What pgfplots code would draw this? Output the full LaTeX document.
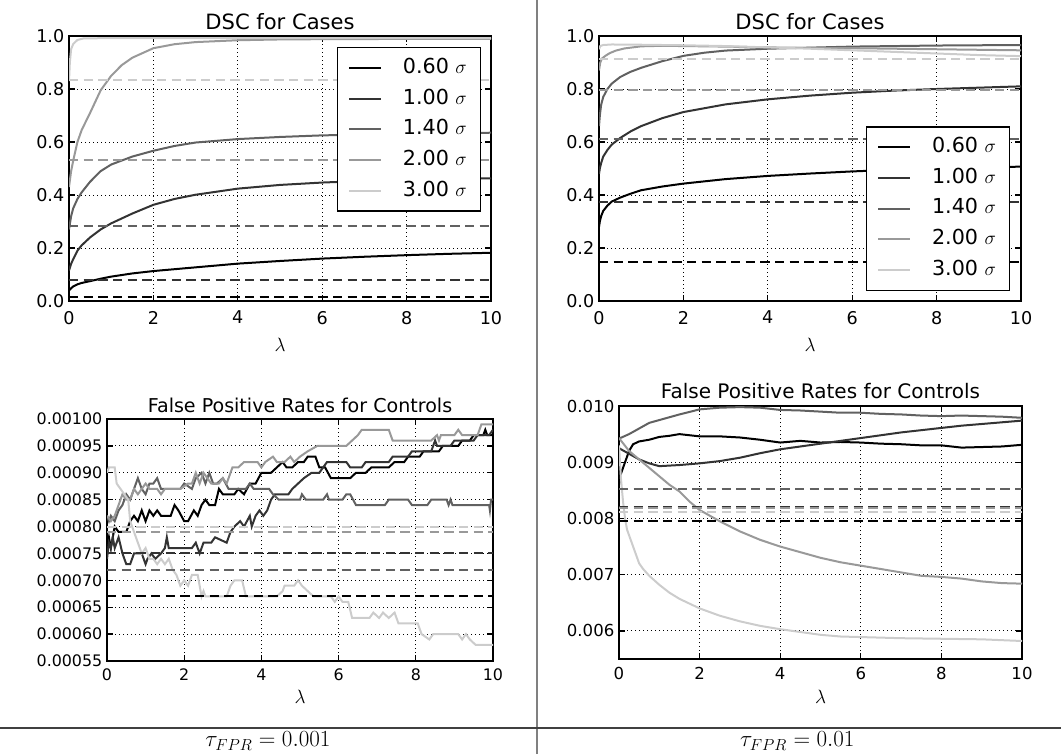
\documentclass[border=0pt]{standalone}
\usepackage[no-math]{fontspec}
\setmainfont{DejaVu Sans}
\usepackage{pgfplots}
\pgfplotsset{compat=1.18}

\definecolor{ga}{gray}{0.0}
\definecolor{gb}{gray}{0.2}
\definecolor{gc}{gray}{0.38}
\definecolor{gd}{gray}{0.6}
\definecolor{ge}{gray}{0.8}

\pgfplotsset{
  panel/.style={
    scale only axis, anchor=south west,
    xmin=0, xmax=10, xtick={0,2,4,6,8,10},
    axis line style={line width=1pt},
    every tick/.style={black, line width=1pt},
    major tick length=4.5pt,
    grid=major,
    major grid style={black, line width=0.6pt, dash pattern=on 0.8pt off 2.2pt},
    /pgf/number format/assume math mode=true,
    scaled y ticks=false,
    xlabel={$\lambda$},
    title style={at={(0.5,1)}, anchor=base},
    every axis plot/.append style={line width=1.5pt},
    legend cell align=left,
    legend image code/.code={\draw[##1, line width=1.5pt] (0pt,0pt) -- (24pt,0pt);},
  },
  leg/.style={legend style={draw=black, line width=1pt, fill=white,
    font=\fontsize{15.5}{18}\selectfont, inner xsep=8pt, inner ysep=7.5pt, row sep=8pt,
    nodes={inner xsep=2pt, inner ysep=0pt, text height=11.6pt, text depth=3.5pt},
    /tikz/every odd column/.append style={column sep=13.5pt}}},
  ref/.style={dash pattern=on 7pt off 4pt, forget plot},
}

\begin{document}
\begin{tikzpicture}
\useasboundingbox (0,0) rectangle (795.75pt,565.5pt);

% top left: DSC, tau = 0.001
\begin{axis}[panel, leg, at={(51.75pt,339.75pt)}, width=316.5pt, height=198.75pt,
  ymin=0, ymax=1, ytick={0,0.2,0.4,0.6,0.8,1}, yticklabels={0.0,0.2,0.4,0.6,0.8,1.0},
  tick label style={font=\fontsize{13.2}{15}\selectfont},
  xticklabel style={yshift=-4pt},
  title={DSC for Cases}, title style={font=\fontsize{15.8}{18}\selectfont, yshift=-1pt},
  xlabel style={at={(axis description cs:0.5,0)}, anchor=center, yshift=-33pt, font=\fontsize{14}{16}\selectfont},
  legend style={at={(0.976,0.958)}, anchor=north east}]
\addplot[ga] coordinates {(0,0.04)(0.05,0.048)(0.1,0.055)(0.2,0.063)(0.3,0.068)(0.5,0.075)(0.75,0.084)(1.0,0.092)(1.5,0.104)(2.0,0.113)(3.0,0.127)(4.0,0.141)(5.0,0.151)(6.0,0.16)(7.0,0.167)(8.0,0.173)(9.0,0.178)(10,0.182)};
\addlegendentry{0.60 $\sigma$}
\addplot[gb] coordinates {(0,0.115)(0.05,0.14)(0.1,0.158)(0.2,0.19)(0.3,0.21)(0.5,0.24)(0.75,0.27)(1.0,0.293)(1.5,0.33)(2.0,0.363)(2.5,0.385)(3.0,0.401)(4.0,0.424)(5.0,0.438)(6.0,0.447)(7.0,0.453)(8.0,0.457)(9.0,0.46)(10,0.463)};
\addlegendentry{1.00 $\sigma$}
\addplot[gc] coordinates {(0,0.27)(0.05,0.32)(0.1,0.35)(0.2,0.385)(0.3,0.41)(0.5,0.45)(0.75,0.49)(1.0,0.515)(1.5,0.545)(2.0,0.567)(2.5,0.585)(3.0,0.598)(4.0,0.611)(5.0,0.619)(6.0,0.625)(7.0,0.628)(8.0,0.631)(9.0,0.633)(10,0.635)};
\addlegendentry{1.40 $\sigma$}
\addplot[gd] coordinates {(0,0.43)(0.05,0.49)(0.1,0.53)(0.2,0.6)(0.3,0.645)(0.5,0.71)(0.75,0.795)(1.0,0.85)(1.25,0.89)(1.5,0.918)(2.0,0.954)(2.5,0.969)(3.0,0.977)(4.0,0.984)(5.0,0.987)(6.0,0.988)(8.0,0.989)(10,0.989)};
\addlegendentry{2.00 $\sigma$}
\addplot[ge] coordinates {(0,0.83)(0.02,0.9)(0.05,0.95)(0.1,0.97)(0.2,0.985)(0.35,0.991)(1,0.992)(10,0.992)};
\addlegendentry{3.00 $\sigma$}
\addplot[ga, ref] coordinates {(0,0.015)(10,0.015)};
\addplot[gb, ref] coordinates {(0,0.079)(10,0.079)};
\addplot[gc, ref] coordinates {(0,0.284)(10,0.284)};
\addplot[gd, ref] coordinates {(0,0.532)(10,0.532)};
\addplot[ge, ref] coordinates {(0,0.834)(10,0.834)};
\end{axis}

% top right: DSC, tau = 0.01
\begin{axis}[panel, leg, at={(449.25pt,339.75pt)}, width=316.5pt, height=198.75pt,
  ymin=0, ymax=1, ytick={0,0.2,0.4,0.6,0.8,1}, yticklabels={0.0,0.2,0.4,0.6,0.8,1.0},
  tick label style={font=\fontsize{13.2}{15}\selectfont},
  xticklabel style={yshift=-4pt},
  title={DSC for Cases}, title style={font=\fontsize{15.8}{18}\selectfont, yshift=-1pt},
  xlabel style={at={(axis description cs:0.5,0)}, anchor=center, yshift=-33pt, font=\fontsize{14}{16}\selectfont},
  legend style={at={(0.974,0.038)}, anchor=south east}]
\addplot[ga] coordinates {(0,0.28)(0.02,0.3)(0.05,0.32)(0.1,0.34)(0.2,0.36)(0.3,0.375)(0.5,0.39)(0.75,0.405)(1.0,0.418)(1.5,0.432)(2.0,0.443)(3.0,0.46)(4.0,0.472)(5.0,0.481)(6.0,0.489)(7.0,0.495)(8.0,0.5)(9.0,0.504)(10,0.507)};
\addlegendentry{0.60 $\sigma$}
\addplot[gb] coordinates {(0,0.48)(0.02,0.5)(0.05,0.52)(0.1,0.545)(0.2,0.57)(0.3,0.59)(0.5,0.615)(0.75,0.64)(1.0,0.66)(1.5,0.69)(2.0,0.713)(3.0,0.742)(4.0,0.761)(5.0,0.775)(6.0,0.786)(7.0,0.794)(8.0,0.8)(9.0,0.805)(10,0.81)};
\addlegendentry{1.00 $\sigma$}
\addplot[gc] coordinates {(0,0.66)(0.02,0.7)(0.05,0.74)(0.1,0.77)(0.2,0.8)(0.3,0.82)(0.5,0.845)(0.75,0.865)(1.0,0.88)(1.5,0.905)(2.0,0.925)(2.5,0.937)(3.0,0.945)(4.0,0.952)(5.0,0.956)(6.0,0.96)(7.0,0.962)(8.0,0.964)(9.0,0.965)(10,0.966)};
\addlegendentry{1.40 $\sigma$}
\addplot[gd] coordinates {(0,0.87)(0.03,0.9)(0.07,0.915)(0.15,0.925)(0.25,0.935)(0.4,0.945)(0.6,0.953)(1.0,0.961)(1.5,0.963)(2.0,0.962)(3.0,0.96)(4.0,0.957)(5.0,0.955)(6.0,0.954)(7.0,0.952)(8.0,0.95)(9.0,0.948)(10,0.946)};
\addlegendentry{2.00 $\sigma$}
\addplot[ge] coordinates {(0,0.95)(0.03,0.962)(0.1,0.966)(0.3,0.968)(1.0,0.967)(2.0,0.965)(3.0,0.962)(4.0,0.957)(5.0,0.952)(6.0,0.946)(7.0,0.94)(8.0,0.934)(9.0,0.928)(10,0.924)};
\addlegendentry{3.00 $\sigma$}
\addplot[ga, ref] coordinates {(0,0.148)(10,0.148)};
\addplot[gb, ref] coordinates {(0,0.372)(10,0.372)};
\addplot[gc, ref] coordinates {(0,0.61)(10,0.61)};
\addplot[gd, ref] coordinates {(0,0.798)(10,0.798)};
\addplot[ge, ref] coordinates {(0,0.915)(10,0.915)};
\end{axis}

% bottom left: FPR, tau = 0.001
\begin{axis}[panel, at={(80.25pt,69.75pt)}, width=289.5pt, height=181.5pt,
  ymin=0.00055, ymax=0.001,
  ytick={0.00055,0.0006,0.00065,0.0007,0.00075,0.0008,0.00085,0.0009,0.00095,0.001},
  yticklabels={0.00055,0.00060,0.00065,0.00070,0.00075,0.00080,0.00085,0.00090,0.00095,0.00100},
  tick label style={font=\fontsize{11.9}{14}\selectfont},
  xticklabel style={yshift=-2.5pt},
  title={False Positive Rates for Controls}, title style={font=\fontsize{14.3}{17}\selectfont, yshift=-1.3pt},
  xlabel style={at={(axis description cs:0.5,0)}, anchor=center, yshift=-27pt, font=\fontsize{14}{16}\selectfont}]
\addplot[ga] coordinates {(0,0.00076)(0.05,0.00078)(0.1,0.00076)(0.15,0.00078)(0.2,0.0008)(0.3,0.00079)(0.5,0.00079)(0.6,0.00081)(0.7,0.00082)(0.8,0.00081)(0.9,0.00083)(1.0,0.00081)(1.1,0.00083)(1.2,0.00082)(1.3,0.00083)(1.4,0.00082)(1.65,0.00082)(1.75,0.00084)(1.85,0.00083)(2.0,0.00081)(2.1,0.00081)(2.25,0.00083)(2.35,0.00082)(2.45,0.00084)(2.55,0.00085)(2.65,0.00084)(2.8,0.00084)(2.9,0.00087)(3.0,0.00086)(3.3,0.00086)(3.4,0.00087)(3.55,0.00086)(3.7,0.00088)(3.85,0.00088)(4.0,0.0009)(4.25,0.0009)(4.4,0.00091)(4.55,0.00092)(4.65,0.00091)(4.8,0.00091)(4.95,0.00092)(5.1,0.00092)(5.2,0.00093)(5.4,0.00093)(5.5,0.00091)(5.65,0.00091)(5.8,0.00089)(6.3,0.00089)(6.45,0.0009)(6.7,0.0009)(6.85,0.00091)(7.3,0.00091)(7.45,0.00092)(7.7,0.00092)(7.8,0.00093)(8.1,0.00093)(8.2,0.00094)(8.6,0.00094)(8.7,0.00095)(9.1,0.00095)(9.2,0.00096)(9.4,0.00096)(9.5,0.00097)(9.75,0.00097)(9.8,0.00098)(9.85,0.00097)(10,0.00097)};
\addplot[gb] coordinates {(0,0.00074)(0.05,0.00077)(0.1,0.00076)(0.15,0.00078)(0.2,0.00076)(0.3,0.00078)(0.4,0.00075)(0.5,0.00073)(0.6,0.00073)(0.7,0.00075)(0.9,0.00075)(1.0,0.00073)(1.05,0.00074)(1.15,0.00075)(1.25,0.00074)(1.4,0.00075)(1.5,0.00076)(1.55,0.00078)(1.6,0.00076)(2.2,0.00076)(2.3,0.00077)(2.4,0.00075)(2.5,0.00077)(2.7,0.00077)(2.8,0.00078)(3.1,0.00077)(3.2,0.00079)(3.3,0.0008)(3.45,0.00081)(3.55,0.0008)(3.7,0.00082)(3.75,0.0008)(3.85,0.00082)(3.95,0.00083)(4.05,0.00082)(4.15,0.00083)(4.25,0.00085)(4.35,0.00086)(4.7,0.00086)(4.8,0.00087)(4.95,0.00088)(5.1,0.00089)(5.3,0.0009)(5.5,0.0009)(5.6,0.00091)(5.7,0.00092)(6.2,0.00092)(6.3,0.00091)(6.6,0.00091)(6.7,0.00092)(7.3,0.00092)(7.4,0.00093)(7.8,0.00093)(7.9,0.00094)(8.4,0.00094)(8.5,0.00096)(8.55,0.00095)(8.9,0.00095)(9.0,0.00096)(9.5,0.00096)(9.6,0.00097)(9.9,0.00097)(10,0.00098)};
\addplot[gc] coordinates {(0,0.00082)(0.05,0.00081)(0.1,0.00082)(0.2,0.00081)(0.3,0.00083)(0.4,0.00084)(0.5,0.00086)(0.6,0.00085)(0.7,0.00087)(0.8,0.00089)(0.9,0.00087)(1.0,0.00086)(1.1,0.00088)(1.2,0.00088)(1.3,0.00089)(1.4,0.00087)(1.9,0.00087)(2.0,0.00088)(2.2,0.00087)(2.3,0.00089)(2.45,0.0009)(2.55,0.00088)(2.65,0.0009)(2.75,0.00088)(2.85,0.00088)(3.0,0.00089)(3.15,0.00087)(3.6,0.00087)(3.7,0.00088)(3.8,0.00087)(4.2,0.00087)(4.3,0.00086)(4.45,0.00085)(5.0,0.00085)(5.05,0.00086)(5.15,0.00085)(5.6,0.00085)(5.7,0.00086)(5.75,0.00085)(6.1,0.00085)(6.2,0.00086)(6.3,0.00086)(6.45,0.00084)(7.2,0.00084)(7.3,0.00085)(7.8,0.00085)(7.9,0.00084)(8.3,0.00084)(8.4,0.00085)(8.8,0.00085)(8.85,0.00084)(8.9,0.00085)(8.95,0.00084)(9.9,0.00084)(9.92,0.00083)(9.95,0.00085)(10,0.00085)};
\addplot[gd] coordinates {(0,0.00082)(0.1,0.00081)(0.2,0.00082)(0.3,0.00084)(0.4,0.00086)(0.5,0.00085)(0.6,0.00085)(0.7,0.00087)(0.8,0.00086)(0.9,0.00087)(1.0,0.00088)(1.1,0.00087)(1.3,0.00087)(1.4,0.00086)(1.5,0.00087)(1.9,0.00087)(2.1,0.00088)(2.2,0.00088)(2.3,0.0009)(2.4,0.00088)(2.5,0.0009)(2.6,0.00089)(2.7,0.00088)(2.9,0.00088)(3.0,0.00089)(3.1,0.00088)(3.25,0.00091)(3.4,0.00091)(3.55,0.00092)(3.9,0.00092)(4.0,0.00091)(4.1,0.00092)(4.3,0.00093)(4.4,0.00092)(4.6,0.00092)(4.75,0.00093)(4.85,0.00092)(5.0,0.00093)(5.2,0.00094)(5.45,0.00095)(6.2,0.00095)(6.5,0.00097)(6.6,0.00098)(7.3,0.00098)(7.4,0.00096)(8.4,0.00096)(8.55,0.00097)(8.6,0.00096)(8.65,0.00097)(9.0,0.00097)(9.1,0.00098)(9.2,0.00097)(9.6,0.00097)(9.7,0.00099)(10,0.00099)};
\addplot[ge] coordinates {(0,0.0009)(0.05,0.00091)(0.2,0.00091)(0.25,0.00088)(0.35,0.00087)(0.45,0.00086)(0.55,0.00085)(0.6,0.00081)(0.7,0.00079)(0.8,0.00077)(0.9,0.00075)(1.0,0.00076)(1.1,0.00074)(1.2,0.00074)(1.3,0.00073)(1.4,0.00074)(1.5,0.00073)(1.6,0.00074)(1.7,0.00072)(1.8,0.00071)(1.9,0.00069)(2.0,0.0007)(2.1,0.00069)(2.2,0.00071)(2.35,0.00071)(2.45,0.00067)(2.5,0.00068)(2.55,0.00067)(3.1,0.00067)(3.2,0.00069)(3.3,0.0007)(3.5,0.0007)(3.6,0.00067)(4.4,0.00067)(4.55,0.00068)(4.6,0.00069)(4.85,0.00069)(4.95,0.0007)(5.05,0.00069)(5.2,0.00068)(5.35,0.00067)(5.8,0.00067)(5.9,0.00066)(6.0,0.00067)(6.1,0.00066)(6.25,0.00066)(6.35,0.00063)(6.8,0.00063)(6.9,0.00064)(7.05,0.00063)(7.15,0.00064)(7.3,0.00063)(7.45,0.00064)(7.55,0.00062)(8.05,0.00062)(8.15,0.0006)(8.35,0.00059)(8.45,0.0006)(9.1,0.0006)(9.2,0.00059)(9.3,0.0006)(9.4,0.00059)(9.55,0.00058)(10,0.00058)};
\addplot[ga, ref] coordinates {(0,0.00067)(10,0.00067)};
\addplot[gb, ref] coordinates {(0,0.00075)(10,0.00075)};
\addplot[gc, ref] coordinates {(0,0.00072)(10,0.00072)};
\addplot[gd, ref] coordinates {(0,0.00079)(10,0.00079)};
\addplot[ge, ref] coordinates {(0,0.0008)(10,0.0008)};
\end{axis}

% bottom right: FPR, tau = 0.01
\begin{axis}[panel, at={(464.25pt,71.25pt)}, width=302.25pt, height=189.75pt,
  ymin=0.0055, ymax=0.01,
  ytick={0.006,0.007,0.008,0.009,0.01},
  yticklabels={0.006,0.007,0.008,0.009,0.010},
  tick label style={font=\fontsize{12.4}{14}\selectfont},
  xticklabel style={yshift=-3pt},
  title={False Positive Rates for Controls}, title style={font=\fontsize{15}{18}\selectfont, yshift=-0.2pt},
  xlabel style={at={(axis description cs:0.5,0)}, anchor=center, yshift=-28.5pt, font=\fontsize{14}{16}\selectfont}]
\addplot[ga] coordinates {(0,0.0086)(0.05,0.0088)(0.1,0.0089)(0.15,0.009)(0.25,0.0092)(0.35,0.00932)(0.5,0.00937)(0.75,0.0094)(1.0,0.00945)(1.25,0.00947)(1.5,0.0095)(1.75,0.00948)(2.0,0.00946)(2.5,0.00946)(3.0,0.00944)(3.5,0.0094)(4.0,0.00935)(4.5,0.00938)(5.0,0.00935)(5.5,0.00936)(6.0,0.00935)(6.5,0.00933)(7.0,0.00932)(7.5,0.0093)(8.0,0.0093)(8.5,0.00926)(9.0,0.00927)(9.5,0.00928)(10,0.00931)};
\addplot[gb] coordinates {(0,0.00925)(0.25,0.00915)(0.5,0.00905)(0.75,0.00898)(1.0,0.00893)(1.5,0.00895)(2.0,0.00898)(2.5,0.00902)(3.0,0.00908)(3.5,0.00916)(4.0,0.00923)(4.5,0.00928)(5.0,0.00933)(5.5,0.00938)(6.0,0.00943)(6.5,0.00948)(7.0,0.00953)(7.5,0.00957)(8.0,0.00961)(8.5,0.00965)(9.0,0.00968)(9.5,0.00971)(10,0.00974)};
\addplot[gc] coordinates {(0,0.00942)(0.25,0.0095)(0.5,0.0096)(0.75,0.0097)(1.0,0.00975)(1.25,0.0098)(1.5,0.00985)(2.0,0.00994)(2.5,0.00997)(3.0,0.00998)(3.5,0.00997)(4.0,0.00993)(4.5,0.00992)(5.0,0.0099)(5.5,0.00988)(6.0,0.00988)(6.5,0.00986)(7.0,0.00985)(7.5,0.00983)(8.0,0.00982)(8.5,0.00983)(9.0,0.00982)(9.5,0.00981)(10,0.00979)};
\addplot[gd] coordinates {(0,0.00943)(0.25,0.0092)(0.5,0.00905)(0.75,0.0089)(1.0,0.00875)(1.25,0.0086)(1.5,0.00848)(1.75,0.0083)(2.0,0.00815)(2.5,0.00795)(3.0,0.00777)(3.5,0.00762)(4.0,0.0075)(4.5,0.0074)(5.0,0.0073)(5.5,0.00722)(6.0,0.00716)(6.5,0.0071)(7.0,0.00704)(7.5,0.00698)(8.0,0.00696)(8.5,0.00693)(9.0,0.00688)(9.5,0.00685)(10,0.00684)};
\addplot[ge] coordinates {(0,0.0093)(0.05,0.0087)(0.1,0.0083)(0.15,0.008)(0.2,0.0078)(0.3,0.0076)(0.4,0.0074)(0.5,0.0072)(0.6,0.0071)(0.75,0.00698)(1.0,0.00682)(1.25,0.00668)(1.5,0.00657)(2.0,0.0064)(2.5,0.00627)(3.0,0.00617)(3.5,0.00609)(4.0,0.00603)(4.5,0.00598)(5.0,0.00593)(5.5,0.0059)(6.0,0.00589)(7.0,0.00587)(8.0,0.00586)(9.0,0.00585)(10,0.00582)};
\addplot[ga, ref] coordinates {(0,0.00795)(10,0.00795)};
\addplot[gb, ref] coordinates {(0,0.00821)(10,0.00821)};
\addplot[gc, ref] coordinates {(0,0.00853)(10,0.00853)};
\addplot[gd, ref] coordinates {(0,0.00818)(10,0.00818)};
\addplot[ge, ref] coordinates {(0,0.00811)(10,0.00811)};
\end{axis}

% table rules and captions
\draw[color=gray!100, line width=1.5pt] (403pt,0pt) -- (403pt,565.5pt);
\draw[color=black!75, line width=1pt] (0pt,19.5pt) -- (795.75pt,19.5pt);
\node[anchor=base, font=\fontsize{17}{20}\selectfont] at (201pt,5.5pt) {$\tau_{FPR} = 0.001$};
\node[anchor=base, font=\fontsize{17}{20}\selectfont] at (598pt,5.5pt) {$\tau_{FPR} = 0.01$};
\end{tikzpicture}
\end{document}
